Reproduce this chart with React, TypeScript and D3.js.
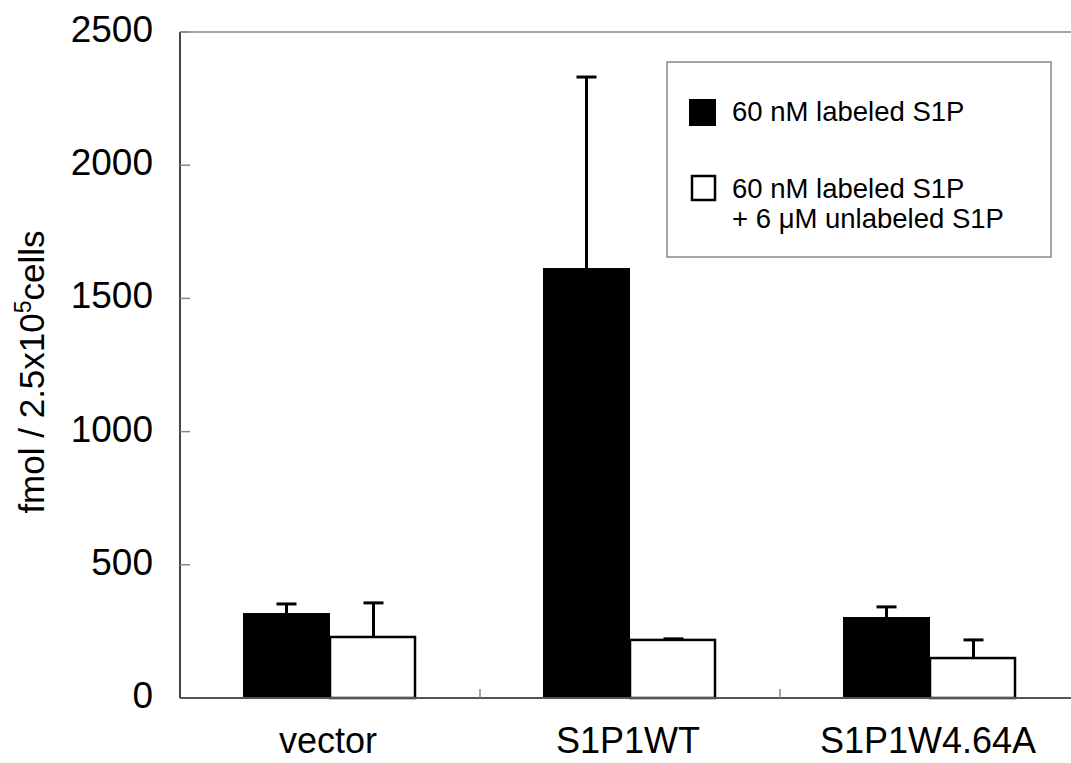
import React from "react";
import * as d3 from "d3";

const categories = ["vector", "S1P1WT", "S1P1W4.64A"];
const seriesNames = ["60 nM labeled S1P", "60 nM labeled S1P + 6 μM unlabeled S1P"];
const labeledValues = [319, 1614, 304];
const labeledErrors = [34, 717, 38];
const unlabeledValues = [229, 218, 150];
const unlabeledErrors = [128, 4, 68];
const yTicks = [0, 500, 1000, 1500, 2000, 2500];

const W = 1071;
const H = 763;
const FONT = "'Liberation Sans', Arial, Helvetica, sans-serif";

export default function App() {
  const left = 180;
  const right = 1080;
  const top = 32;
  const bottom = 698;

  const y = d3.scaleLinear().domain([0, 2500]).range([bottom, top]);
  const x = d3.scaleBand<string>().domain(categories).range([left, right]).padding(0);
  const groupW = 174;
  const sub = d3.scaleBand<number>().domain([0, 1]).range([0, groupW]).padding(0);

  const series = [
    { values: labeledValues, errors: labeledErrors, fill: "#000" },
    { values: unlabeledValues, errors: unlabeledErrors, fill: "#fff" },
  ];

  return (
    <svg
      width={W}
      height={H}
      style={{ position: "absolute", left: 0, top: 0, background: "#fff" }}
      fontFamily={FONT}
    >
      <rect x={0} y={0} width={W} height={H} fill="#fff" />
      {/* top frame line */}
      <line x1={left} x2={W} y1={top} y2={top} stroke="#888" strokeWidth={1.5} />
      {/* bars */}
      {categories.map((c, ci) => {
        const cx = (x(c) as number) + x.bandwidth() / 2;
        const gx = cx - groupW / 2;
        return (
          <g key={c}>
            {series.map((s, si) => {
              const bx = gx + (sub(si) as number);
              const bw = sub.bandwidth();
              const v = s.values[ci];
              const e = s.errors[ci];
              const by = y(v);
              const mid = bx + bw / 2;
              const isWhite = si === 1;
              return (
                <g key={si}>
                  <line x1={mid} x2={mid} y1={by} y2={y(v + e)} stroke="#000" strokeWidth={3} />
                  <line x1={mid - 10} x2={mid + 10} y1={y(v + e)} y2={y(v + e)} stroke="#000" strokeWidth={3} />
                  {isWhite ? (
                    <rect x={bx} y={by} width={bw - 2} height={bottom - by} fill="#fff" stroke="#000" strokeWidth={2.5} />
                  ) : (
                    <rect x={bx} y={by} width={bw} height={bottom - by} fill="#000" />
                  )}
                </g>
              );
            })}
          </g>
        );
      })}
      {/* y axis */}
      <line x1={left} x2={left} y1={top} y2={bottom} stroke="#444" strokeWidth={2} />
      {yTicks.map((t) => (
        <g key={t}>
          <line x1={left} x2={left + 10} y1={y(t)} y2={y(t)} stroke="#888" strokeWidth={1.5} />
          <text x={153} y={y(t) + 10} textAnchor="end" fontSize={37} fill="#000">
            {t}
          </text>
        </g>
      ))}
      {/* x axis */}
      <line x1={left} x2={W} y1={bottom} y2={bottom} stroke="#555" strokeWidth={2} />
      {categories.slice(1).map((c) => (
        <line key={c} x1={x(c) as number} x2={x(c) as number} y1={bottom} y2={bottom - 9} stroke="#888" strokeWidth={1.5} />
      ))}
      {categories.map((c) => (
        <text key={c} x={(x(c) as number) + x.bandwidth() / 2 - 2} y={753} textAnchor="middle" fontSize={36} fill="#000">
          {c}
        </text>
      ))}
      {/* y title */}
      <text transform="translate(44,372) rotate(-90)" textAnchor="middle" fontSize={35} fill="#000">
        fmol / 2.5x10
        <tspan fontSize={23} dy={-13}>5</tspan>
        <tspan dy={13}>cells</tspan>
      </text>
      {/* legend */}
      <rect x={667} y={62} width={384} height={195} fill="#fff" stroke="#888" strokeWidth={1.5} />
      <rect x={689} y={99} width={27} height={27} fill="#000" />
      <text x={732} y={121} fontSize={27.5} fill="#000">{seriesNames[0]}</text>
      <rect x={692} y={176} width={23} height={24} fill="#fff" stroke="#000" strokeWidth={2.5} />
      <text x={732} y={198} fontSize={27.5} fill="#000">60 nM labeled S1P</text>
      <text x={732} y={228} fontSize={27.5} fill="#000">+ 6 μM unlabeled S1P</text>
    </svg>
  );
}
